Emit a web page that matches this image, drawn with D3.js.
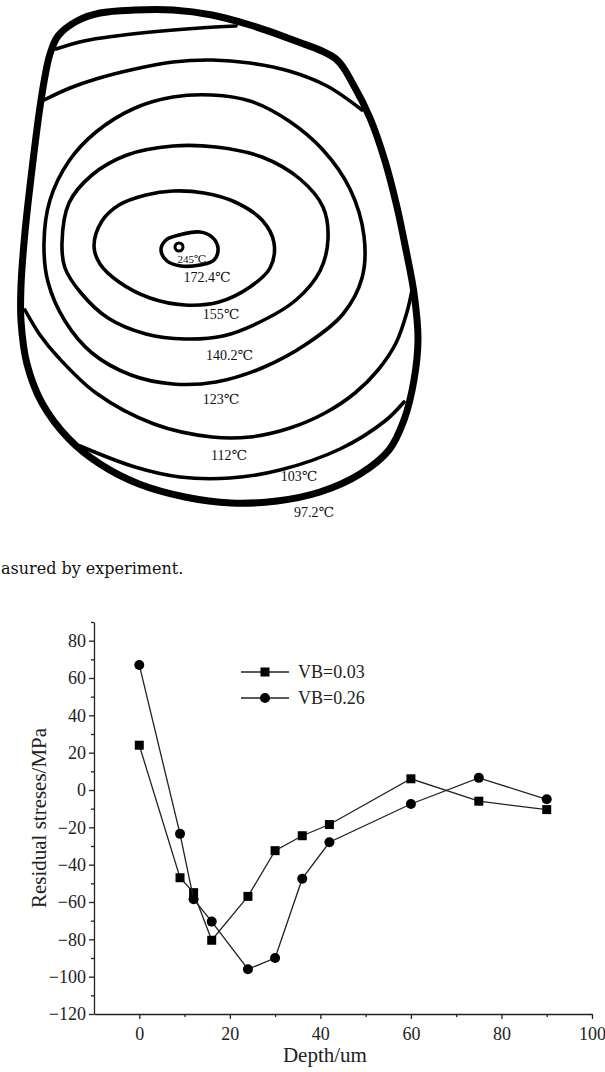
<!DOCTYPE html>
<html><head><meta charset="utf-8">
<script src="https://cdn.jsdelivr.net/npm/d3@7"></script>
<style>html,body{margin:0;padding:0;background:#fff;} svg{display:block}</style>
</head><body>
<svg id="c" width="605" height="1072"></svg>
<script>
// ===== Residual stress chart data =====
const depth = [0, 9, 12, 16, 24, 30, 36, 42, 60, 75, 90];
const stressVB003 = [24, -47, -55, -80.5, -57, -32.5, -24.5, -18.5, 6, -6, -10.5];
const stressVB026 = [67, -23.5, -58.5, -70.5, -96, -90, -47.5, -28, -7.5, 6.5, -5];
const seriesNames = ["VB=0.03", "VB=0.26"];
const xTicks = [0, 20, 40, 60, 80, 100];
const xMinorTicks = [10, 30, 50, 70, 90];
const yTicks = [-120, -100, -80, -60, -40, -20, 0, 20, 40, 60, 80];
const yMinorTicks = [-110, -90, -70, -50, -30, -10, 10, 30, 50, 70, 90];
const xDomain = [-10, 100];
const yDomain = [-120, 90];
const xTitle = "Depth/um";
const yTitle = "Residual streses/MPa";
const captionText = "asured by experiment.";

// ===== Isotherm map data (normalised workpiece coords 0-100) =====
const iso972 = [[7.5,9.8],[9.5,6.2],[14.25,3.2],[20,1.6],[28.75,1.0],[38.25,1.0],[48,2.0],[57.5,4.0],[68.25,7.0],[79,10.8],[83.5,16.2],[87.5,22.6],[91.25,31.2],[94.25,40.4],[96.5,49],[98.5,57.6],[99.5,66.8],[98.5,75],[96,83],[92.25,89],[85,93.8],[75,97.4],[64.25,99.2],[52.75,99.6],[41.25,98.4],[29.75,95.8],[20,91.8],[12.25,86.8],[5.5,79.6],[1.75,71.8],[0.25,63.2],[0.25,56.2],[1.25,45.4],[3.25,31.2],[5,20.4],[6.5,13.2]];
const iso103Top = [[9,8.8],[16,7.2],[24,6.2],[35.5,5.2],[45,4.6],[54,4.2]];
const iso103Bottom = [[15,88.2],[28.75,92.4],[40,94.4],[52.5,94.6],[65,93],[80,88.8],[91.25,83.2],[96,79.4]];
const iso112Top = [[6,19],[12.5,16.6],[19,14.8],[28.75,12.8],[38.25,11.4],[48,11],[57.5,11.6],[67.25,13.2],[76.75,16.2],[85.5,21]];
const iso112Bottom = [[1.25,61],[5,66],[9.5,70.4],[19,77.6],[33.5,83.8],[48,86.4],[57.5,86.4],[67.5,84.6],[76.25,81.6],[83.75,77.6],[89.5,73],[94,67.6],[96.75,61.4],[98,57]];
const iso123 = [[6,47.6],[7.5,39],[12.25,31.2],[19,25.4],[28.75,20.6],[38.25,18.4],[48,18],[57.5,19.2],[67.25,23.2],[75.75,29],[82.5,36.8],[86,46.2],[85.5,54.6],[80.75,61.8],[72,67.6],[60.5,72.6],[49,75.4],[38.25,75.8],[27.75,74],[18,69.6],[11.25,63.2],[7,55.4]];
const iso1402 = [[10.5,47.6],[12.25,39.6],[18,34],[26.75,30],[38.25,28.2],[49,28.4],[60.5,30.4],[70,34.8],[75.75,40.4],[77,46.8],[75,53.2],[69,59],[60.5,63.2],[50.75,66.2],[41.25,66.8],[31.5,65.8],[22,62.6],[15.25,57.6],[11.25,52.6]];
const iso155 = [[18.5,48.2],[20.5,43.2],[24.75,40],[31.5,38],[38.25,37.2],[46,37.6],[53.75,39.4],[60.5,43],[63.5,47.6],[62.5,52.6],[57.5,56.4],[49.75,59.4],[41.25,60],[32.5,58.6],[24.75,55.4],[20,51.8]];
const iso1724 = [[35.25,49],[36.5,47],[39.75,46],[45,45.4],[48,46.4],[49.5,48.6],[48.5,51],[45,52],[40.25,52.2],[36.75,51.2]];
const iso245Centre = [39.75, 48.4];
const isoLabels = ["245℃", "172.4℃", "155℃", "140.2℃", "123℃", "112℃", "103℃", "97.2℃"];
const isoLabelPos = [[43,51.6],[46.75,55.4],[50.25,62.8],[52.4,71],[50.25,79.8],[52.25,91],[69.75,95.2],[73.5,102.4]];

const svg = d3.select("#c");

// ---------- Isotherm map ----------
const mx = d3.scaleLinear().domain([0, 100]).range([20, 420]);
const my = d3.scaleLinear().domain([0, 100]).range([5, 505]);
const closedLine = d3.line().x(d => mx(d[0])).y(d => my(d[1])).curve(d3.curveCatmullRomClosed.alpha(0.5));
const openLine = d3.line().x(d => mx(d[0])).y(d => my(d[1])).curve(d3.curveCatmullRom.alpha(0.5));
const map = svg.append("g").attr("fill", "none").attr("stroke", "#000").attr("stroke-linejoin", "round").attr("stroke-linecap", "round");

[iso1724, iso155, iso1402, iso123].forEach(p => {
  map.append("path").attr("d", closedLine(p)).attr("stroke-width", 3.6);
});
[iso112Top, iso112Bottom, iso103Top, iso103Bottom].forEach(p => {
  map.append("path").attr("d", openLine(p)).attr("stroke-width", 3.6);
});
map.append("path").attr("d", closedLine(iso972)).attr("stroke-width", 7);
map.append("circle").attr("cx", mx(iso245Centre[0])).attr("cy", my(iso245Centre[1])).attr("r", 4).attr("stroke-width", 3);

svg.append("g").selectAll("text").data(isoLabels).join("text")
  .attr("x", (d, i) => mx(isoLabelPos[i][0]))
  .attr("y", (d, i) => my(isoLabelPos[i][1]))
  .attr("text-anchor", "middle")
  .attr("font-family", "'Liberation Serif','DejaVu Serif','Noto Sans CJK SC',serif")
  .attr("font-size", (d, i) => i === 0 ? 11 : 14)
  .attr("fill", "#111")
  .text(d => d);

// ---------- Caption fragment ----------
svg.append("text").attr("x", 1).attr("y", 574)
  .attr("font-family", "'DejaVu Serif',serif").attr("font-size", 16).attr("fill", "#111")
  .text(captionText);

// ---------- Line chart ----------
const x = d3.scaleLinear().domain(xDomain).range([94, 592]);
const y = d3.scaleLinear().domain(yDomain).range([1014, 622]);
const serif = "'Liberation Serif','Times New Roman',serif";
const chart = svg.append("g");

const xAxis = chart.append("g").attr("transform", `translate(0,${y(yDomain[0])})`)
  .call(d3.axisBottom(x).tickValues(xTicks).tickSize(5).tickPadding(8).tickSizeOuter(0));
chart.append("g").attr("transform", `translate(0,${y(yDomain[0])})`)
  .call(d3.axisBottom(x).tickValues(xMinorTicks).tickSize(3).tickFormat("").tickSizeOuter(0))
  .select(".domain").remove();
const yAxis = chart.append("g").attr("transform", `translate(${x(xDomain[0])},0)`)
  .call(d3.axisLeft(y).tickValues(yTicks).tickSize(5).tickPadding(3).tickSizeOuter(0));
chart.append("g").attr("transform", `translate(${x(xDomain[0])},0)`)
  .call(d3.axisLeft(y).tickValues(yMinorTicks).tickSize(3).tickFormat("").tickSizeOuter(0))
  .select(".domain").remove();
chart.selectAll(".domain, .tick line").attr("stroke", "#222").attr("stroke-width", 1.3);
chart.selectAll(".tick text").attr("font-family", serif).attr("font-size", 18).attr("fill", "#222");

chart.append("text").attr("x", x(41)).attr("y", 1062).attr("text-anchor", "middle")
  .attr("font-family", serif).attr("font-size", 21).attr("fill", "#222").text(xTitle);
chart.append("text").attr("transform", `translate(46,${y(-15)}) rotate(-90)`).attr("text-anchor", "middle")
  .attr("font-family", serif).attr("font-size", 21).attr("fill", "#222").text(yTitle);

const seriesData = [stressVB003, stressVB026];
const lineGen = d3.line().x((d, i) => x(depth[i])).y(d => y(d));
seriesData.forEach((vals, s) => {
  chart.append("path").attr("d", lineGen(vals)).attr("fill", "none").attr("stroke", "#222").attr("stroke-width", 1.3);
  const g = chart.append("g");
  if (s === 0) {
    g.selectAll("rect").data(vals).join("rect")
      .attr("x", (d, i) => x(depth[i]) - 4.5).attr("y", d => y(d) - 4.5)
      .attr("width", 9).attr("height", 9).attr("fill", "#000");
  } else {
    g.selectAll("circle").data(vals).join("circle")
      .attr("cx", (d, i) => x(depth[i])).attr("cy", d => y(d)).attr("r", 5).attr("fill", "#000");
  }
});

// Legend
const legend = chart.append("g");
seriesNames.forEach((name, s) => {
  const ly = 672 + s * 26;
  legend.append("line").attr("x1", 241).attr("x2", 289).attr("y1", ly).attr("y2", ly).attr("stroke", "#222").attr("stroke-width", 1.3);
  if (s === 0) legend.append("rect").attr("x", 265 - 4.5).attr("y", ly - 4.5).attr("width", 9).attr("height", 9).attr("fill", "#000");
  else legend.append("circle").attr("cx", 265).attr("cy", ly).attr("r", 5).attr("fill", "#000");
  legend.append("rect").attr("x", 251).attr("y", ly - 2).attr("width", 0).attr("height", 0);
  legend.append("text").attr("x", 298).attr("y", ly + 6).attr("font-family", serif).attr("font-size", 18).attr("fill", "#222").text(name);
});
</script>
</body></html>
